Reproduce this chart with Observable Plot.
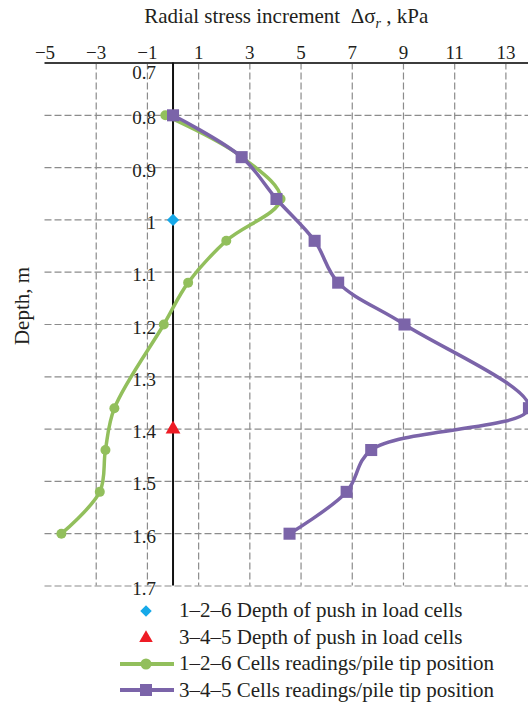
<!DOCTYPE html>
<html>
<head>
<meta charset="utf-8">
<script src="https://cdn.jsdelivr.net/npm/d3@7"></script>
<script src="https://cdn.jsdelivr.net/npm/@observablehq/plot@0.6"></script>
<style>
  html, body { margin: 0; padding: 0; background: #fff; }
  #wrap { position: relative; width: 528px; height: 703px; overflow: hidden; font-family: "Liberation Serif", "DejaVu Serif", serif; color: #231f20; }
  #title { position: absolute; left: 44.5px; width: 483.5px; top: 2px; text-align: center; font-size: 21px; line-height: 28px; }
  #ylabel { position: absolute; left: 21.5px; top: 306px; width: 0; height: 0; }
  #ylabel span { position: absolute; left: 0; top: 0; transform: translate(-50%, -50%) rotate(-90deg); white-space: nowrap; font-size: 21px; line-height: 24px; }
  #chart { position: absolute; left: 0; top: 0; }
  .leg { position: absolute; left: 120px; height: 26px; display: flex; align-items: center; font-size: 21px; white-space: nowrap; }
  .leg svg { width: 54px; height: 26px; margin-right: 5px; flex: none; }
</style>
</head>
<body>
<div id="wrap">
  <div id="chart"></div>
  <div id="title">Radial stress increment&nbsp;&nbsp;Δσ<sub style="font-size:14px;font-style:italic;">r</sub> , kPa</div>
  <div id="ylabel"><span>Depth, m</span></div>
  <div id="legend"></div>
</div>
<script>
// ---- data ----
const depth = [0.8, 0.88, 0.96, 1.04, 1.12, 1.2, 1.36, 1.44, 1.52, 1.6];
const cells126 = [-0.3, 2.7, 4.2, 2.08, 0.59, -0.36, -2.29, -2.64, -2.86, -4.36];
const cells345 = [0, 2.68, 4.04, 5.53, 6.45, 9.04, 13.9, 7.74, 6.78, 4.55];
const pushDepth126 = [1.0];
const pushDepth345 = [1.4];
const xTicks = [-5, -3, -1, 1, 3, 5, 7, 9, 11, 13];
const xGrid = [-3, -1, 1, 3, 5, 7, 9, 11, 13];
const yTicks = [0.7, 0.8, 0.9, 1.0, 1.1, 1.2, 1.3, 1.4, 1.5, 1.6, 1.7];
const yTickLabels = ["0.7", "0.8", "0.9", "1", "1.1", "1.2", "1.3", "1.4", "1.5", "1.6", "1.7"];
const seriesNames = [
  "1–2–6 Depth of push in load cells",
  "3–4–5 Depth of push in load cells",
  "1–2–6 Cells readings/pile tip position",
  "3–4–5 Cells readings/pile tip position"
];

const GREEN = "#92bf5c", PURPLE = "#7b64a9", BLUE = "#17a9e9", RED = "#ee1c25", GRID = "#8c8c8c";

const green = depth.map((d, i) => ({depth: d, v: cells126[i]}));
const purple = depth.map((d, i) => ({depth: d, v: cells345[i]}));
const fmtX = d => d < 0 ? "\u2212" + Math.abs(d) : String(d);
const yLab = yTicks.map((d, i) => ({d, t: yTickLabels[i]}));

const chart = Plot.plot({
  width: 528,
  height: 600,
  marginLeft: 44.5,
  marginRight: 0,
  marginTop: 62.5,
  marginBottom: 14.5,
  style: {fontFamily: "Liberation Serif, DejaVu Serif, serif", fontSize: "19px", color: "#231f20", overflow: "hidden"},
  x: {domain: [-5, 14], range: [44.5, 531], axis: null},
  y: {domain: [0.7, 1.7], range: [62.5, 585.5], axis: null},
  marks: [
    Plot.ruleX(xGrid, {stroke: GRID, strokeWidth: 1.2, strokeDasharray: "7,3"}),
    Plot.ruleY(yTicks.filter(d => d > 0.7), {stroke: GRID, strokeWidth: 1.2, strokeDasharray: "7,3"}),
    Plot.text(xTicks, {x: d => d, frameAnchor: "top", dy: -17.5, text: fmtX, fontSize: 19, fill: "#231f20"}),
    Plot.text(yLab.filter(o => o.d > 0.7), {x: () => 0, y: "d", text: "t", textAnchor: "end", dx: -17, dy: 3, fontSize: 19, fill: "#231f20"}),
    Plot.text(yLab.filter(o => o.d === 0.7), {x: () => 0, y: "d", text: "t", textAnchor: "end", dx: -17, dy: 9.5, fontSize: 19, fill: "#231f20"}),
    Plot.ruleY([0.7], {stroke: "#3c3c3c", strokeWidth: 2}),
    Plot.ruleX([0], {stroke: "#111", strokeWidth: 2}),
    Plot.line(green, {x: "v", y: "depth", curve: "catmull-rom", stroke: GREEN, strokeWidth: 3.5}),
    Plot.dot(green, {x: "v", y: "depth", r: 5, fill: GREEN, stroke: "none"}),
    Plot.line(purple, {x: "v", y: "depth", curve: "catmull-rom", stroke: PURPLE, strokeWidth: 3.5}),
    Plot.dot(purple, {x: "v", y: "depth", symbol: "square", r: 6.8, fill: PURPLE, stroke: "none"}),
    Plot.dot(pushDepth126, {x: () => 0, y: d => d, symbol: "diamond2", r: 5.5, fill: BLUE, stroke: "none"}),
    Plot.dot(pushDepth345, {x: () => 0, y: d => d, symbol: "triangle", r: 5.5, fill: RED, stroke: "none"})
  ]
});
document.getElementById("chart").appendChild(chart);

// ---- legend (below the plot) ----
const legend = d3.select("#legend");
const rowsY = [610.5, 637, 663.5, 690];
const swatches = [
  g => g.append("path").attr("d", d3.symbol(d3.symbolDiamond2, 85)()).attr("transform", "translate(26,13)").attr("fill", BLUE),
  g => g.append("path").attr("d", d3.symbol(d3.symbolTriangle, 80)()).attr("transform", "translate(26,14)").attr("fill", RED),
  g => { g.append("line").attr("x1", 0).attr("x2", 54).attr("y1", 13).attr("y2", 13).attr("stroke", GREEN).attr("stroke-width", 4);
         g.append("circle").attr("cx", 26).attr("cy", 13).attr("r", 5.5).attr("fill", GREEN); },
  g => { g.append("line").attr("x1", 0).attr("x2", 54).attr("y1", 13).attr("y2", 13).attr("stroke", PURPLE).attr("stroke-width", 4);
         g.append("rect").attr("x", 20).attr("y", 7).attr("width", 12).attr("height", 12).attr("fill", PURPLE); }
];
seriesNames.forEach((name, i) => {
  const row = legend.append("div").attr("class", "leg").style("top", (rowsY[i] - 13) + "px");
  const svg = row.append("svg").attr("viewBox", "0 0 54 26");
  swatches[i](svg);
  row.append("span").text(name);
});
</script>
</body>
</html>
